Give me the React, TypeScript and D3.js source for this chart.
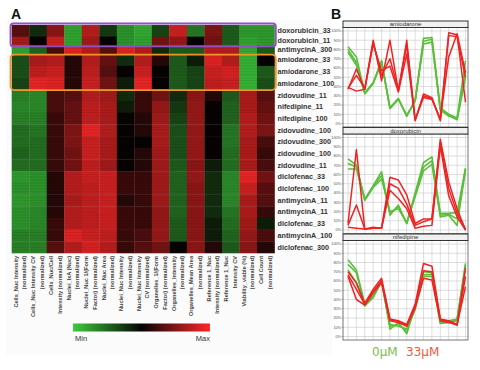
import React from "react";
import * as d3 from "d3";

// ---------- Panel A data ----------
const rowLabels = [
  "doxorubicin_33", "doxorubicin_11", "antimycinA_300", "amiodarone_33", "amiodarone_33",
  "amiodarone_100", "zidovudine_11", "nifedipine_11", "nifedipine_100", "zidovudine_100",
  "zidovudine_300", "zidovudine_100", "zidovudine_11", "diclofenac_33", "diclofenac_100",
  "antimycinA_11", "antimycinA_11", "diclofenac_33", "antimycinA_100", "diclofenac_300",
];
// replicate sub-rows per labelled row
const rowReplicates = [4, 3, 3, 4, 4, 4, 4, 4, 4, 4, 4, 4, 4, 4, 4, 4, 4, 4, 4, 4];

const colLabels: string[][] = [
  ["Cells_Nuc Intensity", "(normalized)"],
  ["Cells_Nuc Intensity CV", "(normalized)"],
  ["Cells_Nuc/Cell", "Intensity (normalized)"],
  ["Nuclei_IxA (Nuc)", "(normalized)"],
  ["Nuclei_Nuc 1/(Form", "Factor) (normalized)"],
  ["Nuclei_Nuc Area", "(normalized)"],
  ["Nuclei_Nuc Intensity", "(normalized)"],
  ["Nuclei_Nuc Intensity", "CV (normalized)"],
  ["Organelles_1/(Form", "Factor) (normalized)"],
  ["Organelles_Intensity", "(normalized)"],
  ["Organelles_Mean Area", "(normalized)"],
  ["Reference 1_Nuc", "Intensity (normalized)"],
  ["Reference 1_Nuc", "Intensity CV"],
  ["Viability_viable (%)", "(normalized)"],
  ["Cell Count", "(normalized)"],
];

const heat: number[][] = [
  [0.2, -0.1, 0.4, -0.7, 0.6, -0.15, -0.6, -0.75, -0.2, 0.7, -0.45, 0.35, -0.3, -0.65, -0.65],
  [0.5, 0.0, 0.7, -0.7, 0.5, 0.0, -0.6, -0.7, 0.3, 0.45, 0.0, 0.3, -0.3, -0.7, -0.65],
  [-0.7, -0.35, 0.15, 0.8, 0.6, 0.2, 0.8, 0.6, -0.1, -0.3, -0.3, 0.6, 0.6, -0.75, -0.3],
  [-0.25, 0.55, 0.6, 0.05, 0.6, 0.25, -0.1, 0.6, 0.05, -0.3, -0.05, 0.8, 0.6, -0.8, 0.0],
  [-0.25, 0.65, 0.7, 0.05, 0.65, 0.2, 0.0, 0.7, 0.0, -0.3, -0.2, 0.7, 0.75, -0.8, -0.3],
  [-0.2, 0.85, 0.8, 0.05, 0.7, 0.3, -0.05, 0.85, 0.0, -0.3, -0.2, 0.65, 0.7, -0.8, -0.25],
  [-0.5, -0.55, 0.15, 0.2, 0.6, 0.5, -0.1, 0.1, 0.3, -0.1, 0.4, 0.05, -0.3, 0.55, 0.2],
  [-0.55, -0.55, 0.15, 0.25, 0.65, 0.55, -0.05, 0.1, 0.45, -0.15, 0.45, 0.0, -0.35, 0.55, 0.25],
  [-0.5, -0.5, 0.1, 0.25, 0.65, 0.55, 0.0, 0.05, 0.5, -0.2, 0.45, 0.0, -0.35, 0.6, 0.3],
  [-0.4, -0.45, 0.1, 0.35, 0.85, 0.6, 0.0, 0.05, 0.55, -0.25, 0.45, 0.0, -0.45, 0.6, 0.35],
  [-0.4, -0.4, 0.1, 0.35, 0.7, 0.55, 0.0, 0.0, 0.55, -0.25, 0.45, 0.0, -0.45, 0.55, 0.15],
  [-0.35, -0.4, 0.1, 0.3, 0.7, 0.55, 0.0, 0.05, 0.5, -0.25, 0.45, 0.0, -0.4, 0.55, 0.1],
  [-0.4, -0.4, 0.1, 0.3, 0.65, 0.5, 0.0, 0.05, 0.5, -0.3, 0.4, -0.05, -0.4, 0.55, 0.15],
  [-0.65, -0.6, 0.05, 0.6, 0.7, 0.7, 0.1, 0.1, 0.5, -0.35, 0.45, -0.1, -0.55, 0.85, 0.3],
  [-0.6, -0.6, 0.05, 0.6, 0.65, 0.7, 0.1, 0.1, 0.5, -0.35, 0.4, -0.1, -0.55, 0.7, 0.2],
  [-0.65, -0.6, 0.05, 0.55, 0.65, 0.7, 0.05, 0.1, 0.5, -0.35, 0.4, -0.1, -0.55, 0.55, 0.2],
  [-0.6, -0.55, 0.05, 0.6, 0.65, 0.7, 0.1, 0.1, 0.45, -0.35, 0.4, -0.1, -0.45, 0.55, 0.1],
  [-0.6, -0.55, 0.1, 0.6, 0.65, 0.7, 0.1, 0.1, 0.45, -0.3, 0.4, -0.05, -0.4, 0.5, -0.05],
  [-0.5, -0.5, 0.1, 0.8, 0.7, 0.65, 0.1, 0.15, 0.45, -0.3, 0.4, -0.05, -0.35, 0.45, 0.15],
  [-0.5, -0.5, 0.2, 0.6, 0.75, 0.6, 0.1, 0.2, 0.3, 0.0, 0.4, 0.05, -0.3, 0.4, 0.05],
];

const legendLabels = ["Min", "Max"];

// ---------- Panel B data ----------
const panelTitles = ["amiodarone", "doxorubicin", "nifedipine"];
const yTicks = [0, 10, 20, 30, 40, 50, 60, 70, 80, 90, 100];

const amioG = [
  [83, 72, 33, 44, 68, 17, 27, 8, 25, 92, 93, 17, 10, 6, 68],
  [80, 66, 33, 44, 67, 17, 27, 8, 25, 89, 91, 15, 8, 5, 57],
  [77, 63, 32, 43, 66, 16, 26, 9, 24, 86, 88, 14, 9, 4, 50],
];
const amioR = [
  [37, 59, 37, 90, 46, 90, 35, 90, 3, 32, 28, 3, 98, 96, 23],
  [38, 52, 38, 88, 52, 70, 36, 85, 4, 30, 27, 4, 95, 94, 50],
  [39, 35, 37, 86, 57, 62, 34, 75, 4, 28, 26, 5, 72, 97, 55],
];
const doxG = [
  [77, 70, 33, 48, 63, 16, 27, 7, 40, 73, 79, 18, 18, 19, 67],
  [72, 68, 33, 47, 59, 18, 25, 7, 38, 68, 75, 16, 17, 12, 66],
  [66, 66, 32, 46, 55, 20, 23, 8, 36, 64, 71, 14, 16, 5, 65],
];
const doxR = [
  [7, 87, 1, 3, 2, 57, 54, 38, 7, 12, 12, 98, 52, 23, 0],
  [5, 27, 1, 2, 2, 50, 45, 28, 5, 9, 12, 95, 45, 18, 1],
  [3, 2, 1, 2, 2, 43, 34, 23, 2, 4, 5, 91, 37, 14, 0],
];
const nifG = [
  [83, 72, 35, 44, 61, 8, 15, 3, 33, 70, 69, 15, 17, 19, 79],
  [78, 69, 34, 43, 60, 11, 13, 6, 31, 67, 67, 15, 16, 18, 77],
  [72, 58, 33, 42, 60, 13, 11, 8, 29, 65, 65, 14, 15, 17, 76],
];
const nifR = [
  [70, 58, 36, 51, 63, 19, 17, 13, 35, 79, 76, 19, 17, 13, 74],
  [67, 51, 35, 49, 60, 18, 16, 12, 33, 71, 70, 18, 16, 12, 65],
  [65, 40, 34, 47, 58, 17, 15, 11, 31, 63, 61, 17, 15, 13, 54],
];
const doseLabels = ["0\u00b5M", "33\u00b5M"];

const GREEN = "#5cbf3c";
const RED = "#f02323";

export default function App() {
  // ---- heatmap geometry ----
  const hx0 = 11.7, hx1 = 274.5, hy0 = 25, hy1 = 253;
  const x = d3.scaleBand<number>().domain(d3.range(colLabels.length)).range([hx0, hx1]).padding(0);
  const totalSub = d3.sum(rowReplicates);
  const sub = d3.scaleLinear().domain([0, totalSub]).range([hy0, hy1]);
  const cum = [0];
  rowReplicates.forEach((r) => cum.push(cum[cum.length - 1] + r));
  const ramp = d3.scaleLinear<string>().domain([-1, 0, 1]).range(["#3ccc3c", "#070303", "#ff2828"]);
  const color = (v: number) => ramp(Math.sign(v) * Math.pow(Math.abs(v), 0.7));

  // ---- small multiples geometry ----
  const px0 = 343, px1 = 468;
  const xp = d3.scalePoint<number>().domain(d3.range(15)).range([348, 465.5]);
  const pitch = 106.5, top0 = 21, stripH = 6.5;
  const panels = [
    { g: amioG, r: amioR },
    { g: doxG, r: doxR },
    { g: nifG, r: nifR },
  ];

  const ff = "Liberation Sans, Arial, sans-serif";

  return (
    <svg width={480} height={370} style={{ position: "absolute", left: 0, top: 0, background: "#fff" }} fontFamily={ff}>
      <defs>
        <linearGradient id="lg" x1="0" x2="1" y1="0" y2="0">
          <stop offset="0" stopColor="#3ccc3c" />
          <stop offset="0.5" stopColor="#070303" />
          <stop offset="1" stopColor="#ff2828" />
        </linearGradient>
      </defs>
      <rect x={0} y={0} width={480} height={370} fill="#fff" />
      <rect x={6} y={20} width={326} height={335} fill="#fbfbfb" />

      {/* Panel letters */}
      <text x={11} y={19} fontSize={14} fontWeight="bold" fill="#111">A</text>
      <text x={331} y={19} fontSize={14} fontWeight="bold" fill="#111">B</text>

      {/* Heatmap cells */}
      {heat.map((row, i) =>
        row.map((v, j) => (
          <rect key={`c${i}-${j}`} x={x(j)!} y={sub(cum[i])} width={x.bandwidth() + 0.3}
            height={sub(cum[i + 1]) - sub(cum[i]) + 0.3} fill={color(v)} />
        ))
      )}
      {/* replicate stripes */}
      {d3.range(1, totalSub).map((k) => (
        <line key={`s${k}`} x1={hx0} x2={hx1} y1={sub(k)} y2={sub(k)} stroke="#000" strokeOpacity={0.12} strokeWidth={0.6} />
      ))}
      {/* Highlight boxes */}
      <rect x={10.5} y={sub(cum[0]) - 1.5} width={hx1 - hx0 + 2.5} height={sub(cum[2]) - sub(cum[0]) + 2.5}
        rx={3} fill="none" stroke="#9050c0" strokeWidth={1.8} />
      <rect x={10.5} y={sub(cum[3]) + 0.3} width={hx1 - hx0 + 2.5} height={sub(cum[6]) - sub(cum[3]) + 0.5}
        rx={4} fill="none" stroke="#f0952a" strokeWidth={1.8} />

      {/* Row labels */}
      {rowLabels.map((l, i) => (
        <text key={`r${i}`} x={277.5} y={(sub(cum[i]) + sub(cum[i + 1])) / 2 + 2.4} fontSize={7.2}
          fontWeight="bold" fill="#333">{l}</text>
      ))}

      {/* Column labels */}
      {colLabels.map((lines, j) => {
        const cx = x(j)! + x.bandwidth() / 2;
        return (
          <g key={`cl${j}`}>
            {lines.map((t, k) => (
              <text key={k} transform={`translate(${cx - 4.5 + k * 8.5},${hy0 + 0}) rotate(-90)`}
                x={-(hy1 - hy0) - 3} y={2} textAnchor="end" fontSize={5.6} fontWeight="bold" fill="#444">{t}</text>
            ))}
          </g>
        );
      })}

      {/* Colour legend */}
      <rect x={73} y={323.5} width={137} height={8} fill="url(#lg)" />
      <text x={75} y={341} fontSize={7.5} fill="#333">{legendLabels[0]}</text>
      <text x={210} y={341} fontSize={7.5} fill="#333" textAnchor="end">{legendLabels[1]}</text>

      {/* Panel B */}
      {panels.map((p, pi) => {
        const top = top0 + pi * pitch;
        const plotTop = top + stripH;
        const plotBot = top + pitch - 0.5;
        const y = d3.scaleLinear().domain([0, 100]).range([plotBot - 3.5, plotTop + 3.5]);
        const line = d3.line<number>().x((_, i) => xp(i)!).y((v) => y(v));
        return (
          <g key={`p${pi}`}>
            <rect x={px0} y={plotTop} width={px1 - px0} height={plotBot - plotTop} fill="#fff" />
            {xp.domain().map((d) => (
              <line key={`vx${d}`} x1={xp(d)} x2={xp(d)} y1={plotTop} y2={plotBot} stroke="#c8c8c8" strokeWidth={0.6} />
            ))}
            {yTicks.map((t) => (
              <g key={`yt${t}`}>
                <line x1={px0} x2={px1} y1={y(t)} y2={y(t)} stroke="#c8c8c8" strokeWidth={0.6} />
                <line x1={px0 - 1.5} x2={px0} y1={y(t)} y2={y(t)} stroke="#666" strokeWidth={0.5} />
                <text x={px0 - 2} y={y(t) + 1.3} fontSize={3.8} textAnchor="end" fill="#555">{t}%</text>
              </g>
            ))}
            {p.g.map((s, k) => (
              <path key={`g${k}`} d={line(s)!} fill="none" stroke={GREEN} strokeWidth={1.6} strokeLinejoin="round" />
            ))}
            {p.r.map((s, k) => (
              <path key={`r${k}`} d={line(s)!} fill="none" stroke={RED} strokeWidth={1.5} strokeLinejoin="round" />
            ))}
            <rect x={px0} y={plotTop} width={px1 - px0} height={plotBot - plotTop} fill="none" stroke="#555" strokeWidth={0.8} />
            <rect x={px0} y={top} width={px1 - px0} height={stripH} fill="#f0f0f0" stroke="#333" strokeWidth={1} />
            <text x={(px0 + px1) / 2} y={top + stripH - 1.3} fontSize={6} textAnchor="middle" fill="#333">{panelTitles[pi]}</text>
          </g>
        );
      })}

      {/* Dose legend */}
      <text x={372} y={356} fontSize={12} fill="#7cc048" fontFamily="DejaVu Sans, sans-serif">{doseLabels[0]}</text>
      <text x={406} y={356} fontSize={12} fill="#f05a3a" fontFamily="DejaVu Sans, sans-serif">{doseLabels[1]}</text>
    </svg>
  );
}
